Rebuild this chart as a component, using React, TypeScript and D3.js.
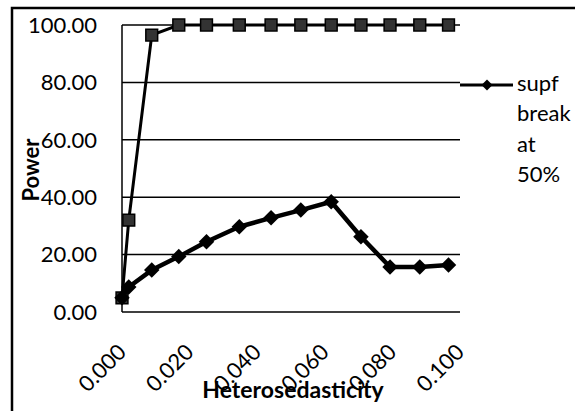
import React from 'react';
import * as d3 from 'd3';

// heterosedasticity levels (x)
const hetero = [0, 0.002, 0.0088, 0.0168, 0.025, 0.0347, 0.0441, 0.0529, 0.0619, 0.0707, 0.0793, 0.0881, 0.0966];
// diamond series: "supf break at 50%"
const supfBreak = [5.0, 8.7, 14.6, 19.3, 24.5, 29.7, 32.8, 35.5, 38.4, 26.2, 15.7, 15.7, 16.4];
// square series (no legend entry visible)
const otherPower = [4.9, 32.0, 96.5, 100, 100, 100, 100, 100, 100, 100, 100, 100, 100];

const yTicks = [0, 20, 40, 60, 80, 100];
const xTicks = [0, 0.02, 0.04, 0.06, 0.08, 0.1];
const legendLines = ['supf', 'break', 'at', '50%'];

const W = 575;
const H = 411;
const FONT = 'Lato, "Open Sans", sans-serif';

const App = () => {
  const x = d3.scaleLinear().domain([0, 0.1]).range([122, 460]);
  const y = d3.scaleLinear().domain([0, 100]).range([312, 25]);

  const line = d3.line<number>()
    .x((d, i) => x(hetero[i]))
    .y(d => y(d));

  const diamond = d3.symbol(d3.symbolSquare, 120)();
  const square = d3.symbol(d3.symbolSquare, 140)();
  const legendDiamond = d3.symbol(d3.symbolSquare, 60)();

  return (
    <svg width={W} height={H} style={{ position: 'absolute', left: 0, top: 0, background: '#fff' }}
      fontFamily={FONT}>
      {/* outer chart frame, cut off at right and bottom */}
      <rect x={12} y={8} width={700} height={600} fill="none" stroke="#000" strokeWidth={2.5} />

      {/* gridlines */}
      {yTicks.map(t => (
        <line key={t} x1={122} x2={460} y1={y(t)} y2={y(t)} stroke="#000" strokeWidth={1.5} />
      ))}
      <line x1={122} x2={122} y1={y(100)} y2={y(0)} stroke="#000" strokeWidth={1.5} />

      {/* y tick labels */}
      {yTicks.map(t => (
        <text key={t} x={97} y={y(t)} dy="0.35em" textAnchor="end" fontSize={22}>
          {d3.format('.2f')(t)}
        </text>
      ))}

      {/* x tick labels */}
      {xTicks.map(t => (
        <text key={t} transform={`translate(${x(t)},348) rotate(-45)`} dy="0.35em"
          textAnchor="end" fontSize={22}>
          {d3.format('.3f')(t)}
        </text>
      ))}

      {/* axis titles */}
      <text x={293} y={398} textAnchor="middle" fontSize={23} fontWeight="bold">Heterosedasticity</text>
      <text transform="translate(39,170) rotate(-90)" textAnchor="middle" fontSize={22} fontWeight="bold">Power</text>

      {/* square series */}
      <path d={line(otherPower) || ''} fill="none" stroke="#000" strokeWidth={3} />
      {otherPower.map((v, i) => (
        <path key={i} d={square} transform={`translate(${x(hetero[i])},${y(v)})`}
          fill="#333" stroke="#000" strokeWidth={1.5} />
      ))}

      {/* diamond series */}
      <path d={line(supfBreak) || ''} fill="none" stroke="#000" strokeWidth={4.5} strokeLinejoin="round" />
      {supfBreak.map((v, i) => (
        <path key={i} d={diamond} transform={`translate(${x(hetero[i])},${y(v)}) rotate(45)`} fill="#000" />
      ))}

      {/* legend */}
      <line x1={460} x2={513} y1={85} y2={85} stroke="#000" strokeWidth={3} />
      <path d={legendDiamond} transform="translate(487,85) rotate(45)" fill="#000" />
      <text x={517} y={91} fontSize={22}>
        {legendLines.map((s, i) => (
          <tspan key={s} x={517} y={91 + i * 30.3}>{s}</tspan>
        ))}
      </text>
    </svg>
  );
};

export default App;
